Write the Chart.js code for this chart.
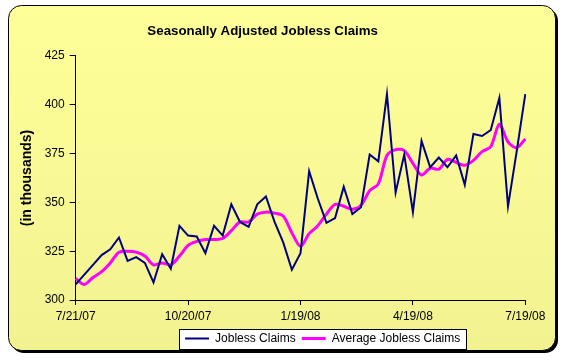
<!DOCTYPE html>
<html>
<head>
<meta charset="utf-8">
<script src="https://cdn.jsdelivr.net/npm/chart.js@4/dist/chart.umd.min.js"></script>
<style>
  html, body { margin: 0; padding: 0; background: #fff; }
  canvas { display: block; }
</style>
</head>
<body>
<canvas id="claimsChart" width="568" height="363"></canvas>
<script>
// weekly dates, 7/21/07 .. 7/19/08
const weeks = [
  '7/21/07', '7/28/07', '8/4/07', '8/11/07', '8/18/07', '8/25/07', '9/1/07', '9/8/07', '9/15/07',
  '9/22/07', '9/29/07', '10/6/07', '10/13/07', '10/20/07', '10/27/07', '11/3/07', '11/10/07',
  '11/17/07', '11/24/07', '12/1/07', '12/8/07', '12/15/07', '12/22/07', '12/29/07', '1/5/08',
  '1/12/08', '1/19/08', '1/26/08', '2/2/08', '2/9/08', '2/16/08', '2/23/08', '3/1/08', '3/8/08',
  '3/15/08', '3/22/08', '3/29/08', '4/5/08', '4/12/08', '4/19/08', '4/26/08', '5/3/08', '5/10/08',
  '5/17/08', '5/24/08', '5/31/08', '6/7/08', '6/14/08', '6/21/08', '6/28/08', '7/5/08', '7/12/08',
  '7/19/08'
];
const tickLabels = ['7/21/07', '10/20/07', '1/19/08', '4/19/08', '7/19/08'];

const joblessClaims = [
  308, 313, 318, 323, 326, 332, 320, 322, 319, 309, 323.5, 316, 338, 333, 332.5, 324, 338,
  333, 349, 340, 337.5, 349, 353, 340, 329.5, 315.5, 324, 366, 352, 339.5, 342, 358, 344,
  347.5, 374.5, 371, 405.5, 355, 374.5, 345, 381.5, 368, 373, 368, 374, 359, 385, 384, 387,
  403.5, 348, 376, 405.5
];
const averageClaims = [
  311, 308, 311.5, 314.5, 319, 324.5, 325, 324.5, 322.5, 318, 319, 318, 322.5, 328, 330, 331, 331,
  331.5, 335.5, 340, 340, 344, 345, 344.5, 343, 334.5, 327.5, 334, 338, 344, 349, 348, 346.5,
  348.5, 356, 359.5, 374, 377, 376.5, 370, 364, 367.5, 367, 372, 370.5, 369, 371.5, 376, 378.5,
  390, 381, 378, 382.5
];

Chart.defaults.font.family = 'Arial, "Liberation Sans", sans-serif';
Chart.defaults.font.size = 12;
Chart.defaults.color = '#000';

// the legend sits right of centre in the original
const LEGEND_SHIFT = 60;

// yellow rounded frame with a drop shadow, and white box behind the legend
const framePlugin = {
  id: 'frame',
  afterLayout(chart) {
    const lg = chart.legend;
    if (lg) {
      lg.left += LEGEND_SHIFT;
      lg.right += LEGEND_SHIFT;
    }
  },
  beforeDraw(chart) {
    const c = chart.ctx;
    const x = 8, y = 5, w = 547, h = 345, r = 13;
    c.save();
    c.fillStyle = '#fff';
    c.fillRect(0, 0, chart.width, chart.height);
    c.fillStyle = '#000';
    c.beginPath();
    c.roundRect(x + 3, y + 3, w, h, r);
    c.fill();
    const g = c.createLinearGradient(0, y, 0, y + h);
    g.addColorStop(0, '#ffff99');
    g.addColorStop(1, '#f2f291');
    c.fillStyle = g;
    c.strokeStyle = '#000';
    c.lineWidth = 1;
    c.beginPath();
    c.roundRect(x + 0.5, y + 0.5, w, h, r);
    c.fill();
    c.stroke();

    const boxes = chart.legend && chart.legend.legendHitBoxes;
    if (boxes && boxes.length) {
      const left = Math.round(Math.min(...boxes.map(b => b.left)) - 6);
      const right = Math.round(Math.max(...boxes.map(b => b.left + b.width)) + 6);
      const top = Math.round(Math.min(...boxes.map(b => b.top)) - 4);
      const bottom = Math.round(Math.max(...boxes.map(b => b.top + b.height)) + 4);
      c.fillStyle = '#fff';
      c.fillRect(left + 0.5, top + 0.5, right - left, bottom - top);
      c.strokeRect(left + 0.5, top + 0.5, right - left, bottom - top);
    }
    c.restore();
  }
};

new Chart(document.getElementById('claimsChart'), {
  type: 'line',
  data: {
    labels: weeks,
    datasets: [
      {
        label: 'Jobless Claims',
        data: joblessClaims,
        borderColor: '#000080',
        backgroundColor: '#000080',
        borderWidth: 2,
        pointRadius: 0,
        tension: 0
      },
      {
        label: 'Average Jobless Claims',
        data: averageClaims,
        borderColor: '#ff00ff',
        backgroundColor: '#ff00ff',
        borderWidth: 3,
        pointRadius: 0,
        tension: 0.3
      }
    ]
  },
  options: {
    responsive: false,
    animation: false,
    layout: { padding: { left: 0, right: 42.7, top: 23, bottom: 8.5 } },
    plugins: {
      title: {
        display: true,
        text: 'Seasonally Adjusted Jobless Claims',
        font: { size: 13.3, weight: 'bold' },
        color: '#000',
        padding: { top: 0, bottom: 17 }
      },
      legend: {
        position: 'bottom',
        labels: {
          usePointStyle: true,
          pointStyle: 'line',
          pointStyleWidth: 24,
          padding: 6,
          color: '#000',
          font: { size: 12 }
        }
      },
      tooltip: { enabled: false }
    },
    scales: {
      x: {
        offset: false,
        afterFit(scale) { scale.height = 26.5; },
        border: { color: '#000', width: 1 },
        grid: { drawOnChartArea: false, tickLength: 5, tickColor: '#000' },
        ticks: {
          autoSkip: false,
          maxRotation: 0,
          padding: 4,
          color: '#000',
          callback(value, index) {
            const lbl = weeks[index];
            return tickLabels.includes(lbl) ? lbl : null;
          }
        }
      },
      y: {
        min: 300,
        max: 425,
        afterFit(scale) { scale.width = 75.7; },
        border: { color: '#000', width: 1 },
        grid: { drawOnChartArea: false, tickLength: 6, tickColor: '#000' },
        ticks: { stepSize: 25, padding: 5, color: '#000' },
        title: {
          display: true,
          text: '(in thousands)',
          font: { size: 14, weight: 'bold' },
          color: '#000',
          padding: { top: 19, bottom: 0 }
        }
      }
    }
  },
  plugins: [framePlugin]
});
</script>
</body>
</html>
